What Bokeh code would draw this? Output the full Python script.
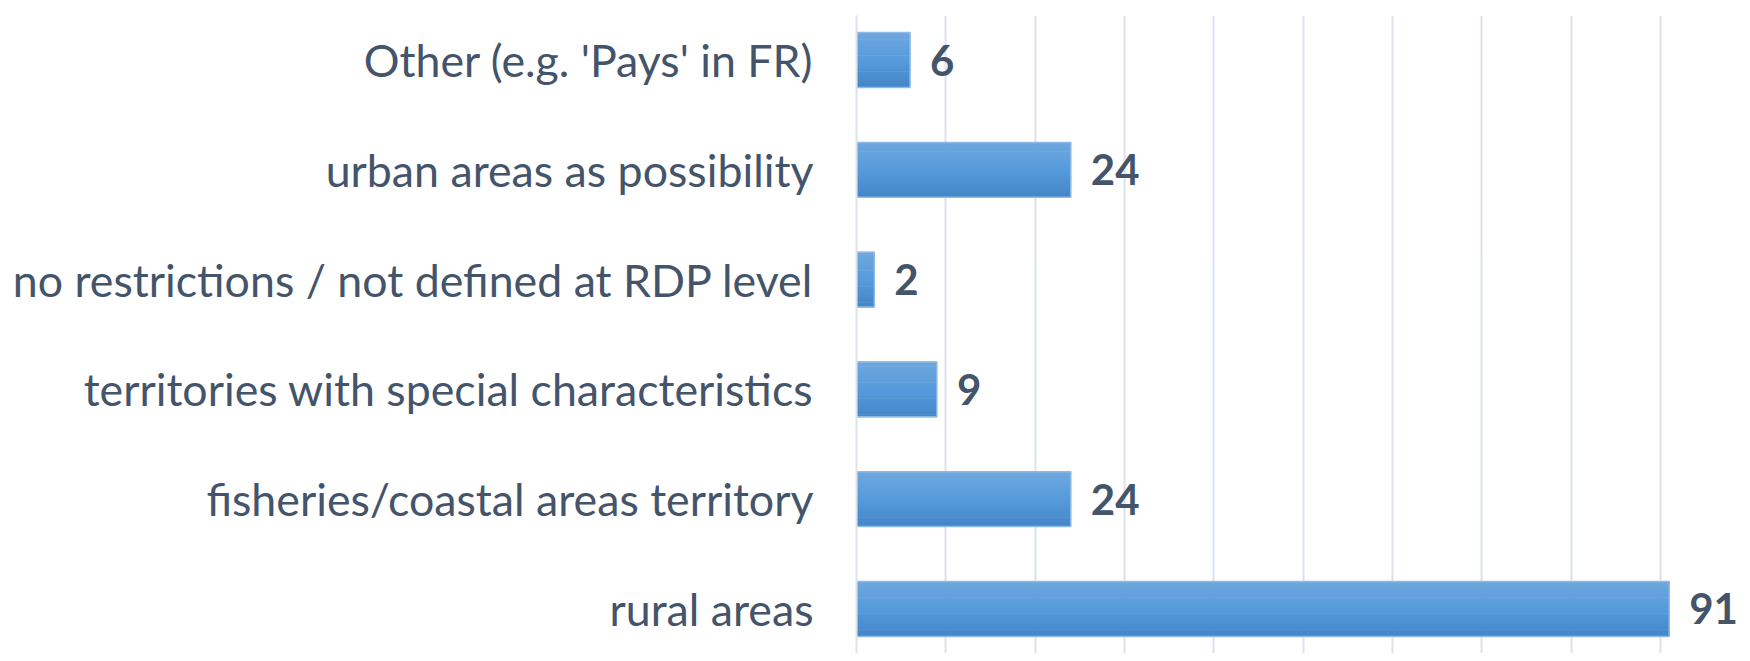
from bokeh.plotting import figure
from bokeh.models import Range1d, ColumnDataSource, FixedTicker, FactorRange
from bokeh.transform import dodge
from bokeh.core.properties import value
from bokeh.embed import file_html
from bokeh.resources import INLINE

categories = [
    "rural areas",
    "fisheries/coastal areas territory",
    "territories with special characteristics",
    "no restrictions / not defined at RDP level",
    "urban areas as possibility",
    "Other (e.g. 'Pays' in FR)",
]
values = [91, 24, 9, 2, 24, 6]
x_ticks = [0, 10, 20, 30, 40, 50, 60, 70, 80, 90, 100]

TEXT = "#44546A"
FONT = "Lato"

src = ColumnDataSource(dict(cat=categories, val=values, lab=[str(v) for v in values]))

y_range = FactorRange(factors=categories, range_padding=-0.094, range_padding_units="absolute")

p = figure(
    width=1742, height=653,
    y_range=y_range, x_range=Range1d(0, 99.2),
    output_backend="svg", toolbar_location=None,
    min_border_left=856, min_border_right=0, min_border_top=15, min_border_bottom=0,
)
p.outline_line_color = None
p.background_fill_color = "white"
p.border_fill_color = "white"

def lerp(c1, c2, t):
    a = [int(c1[i:i + 2], 16) for i in (1, 3, 5)]
    b = [int(c2[i:i + 2], 16) for i in (1, 3, 5)]
    return "#%02x%02x%02x" % tuple(round(a[k] + (b[k] - a[k]) * t) for k in range(3))

BAR_H = 0.5
N = 24
top_c, mid_c, bot_c = "#70A7DD", "#569BDC", "#4486C7"
for i in range(N):
    t = (i + 0.5) / N
    col = lerp(top_c, mid_c, t * 2) if t < 0.5 else lerp(mid_c, bot_c, (t - 0.5) * 2)
    off = BAR_H / 2 - (i + 0.5) * BAR_H / N
    p.hbar(y=dodge("cat", off, range=p.y_range), right="val", left=0,
           height=BAR_H / N + 0.006, fill_color=col, line_color=None, source=src)

p.hbar(y="cat", right="val", left=0, height=BAR_H, fill_color=None,
       line_color="#8DBBE6", line_width=1.5, source=src)

p.text(x="val", y="cat", text="lab", source=src, x_offset=20,
       text_font=value(FONT), text_font_style="bold", text_font_size="42px",
       text_color=TEXT, text_align="left", text_baseline="middle")

p.xaxis.visible = False
p.xaxis.ticker = FixedTicker(ticks=x_ticks)
p.xgrid.ticker = FixedTicker(ticks=x_ticks)
p.xgrid.grid_line_color = "#DCE1EA"
p.xgrid.grid_line_width = 2
p.ygrid.grid_line_color = None

ya = p.yaxis[0]
ya.axis_line_color = "#DCE1EA"
ya.axis_line_width = 2
ya.major_tick_line_color = None
ya.minor_tick_line_color = None
ya.major_tick_out = 0
ya.major_tick_in = 0
ya.major_label_standoff = 43
ya.major_label_text_font = FONT
ya.major_label_text_font_size = "44.7px"
ya.major_label_text_color = TEXT

open("out.html", "w").write(file_html(p, INLINE))
